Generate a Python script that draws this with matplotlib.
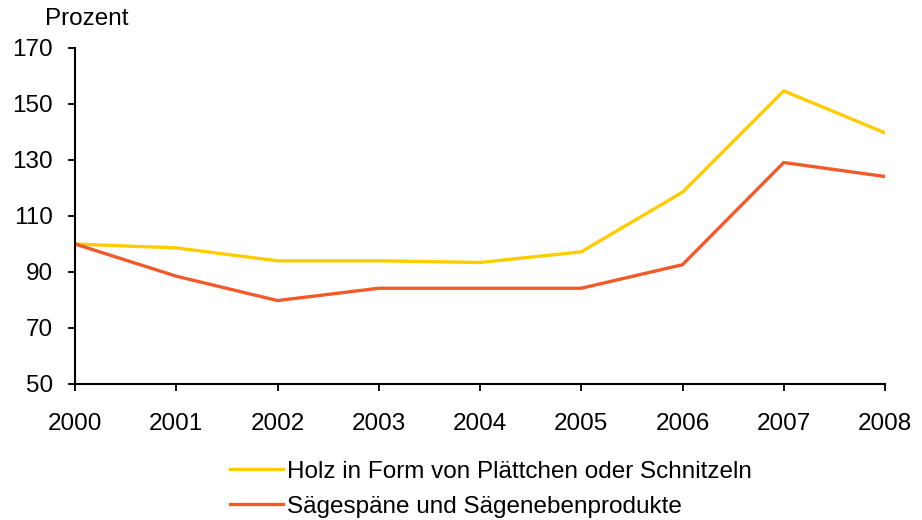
import matplotlib
matplotlib.use("Agg")
import matplotlib.pyplot as plt

plt.rcParams['font.family'] = ['Liberation Sans', 'DejaVu Sans']

years = [2000, 2001, 2002, 2003, 2004, 2005, 2006, 2007, 2008]
holz = [100, 98.6, 94, 94, 93.4, 97.2, 118.5, 154.7, 139.7]
saege = [100, 88.5, 79.8, 84.2, 84.2, 84.2, 92.6, 129.1, 124.1]
series_names = ["Holz in Form von Plättchen oder Schnitzeln",
                "Sägespäne und Sägenebenprodukte"]
colors = ["#FFCC00", "#F15A2B"]
yticks = [50, 70, 90, 110, 130, 150, 170]

FS = 17.5

fig = plt.figure(figsize=(9.22, 5.2), dpi=100)
ax = fig.add_axes([75/922, 136/520, 810/922, 336/520])

l1, = ax.plot(years, holz, color=colors[0], lw=2.4, solid_joinstyle='miter')
l2, = ax.plot(years, saege, color=colors[1], lw=2.4, solid_joinstyle='miter')

ax.set_xlim(2000, 2008)
ax.set_ylim(50, 170)
ax.set_xticks(years)
ax.set_xticklabels([str(y) for y in years])
ax.set_yticks(yticks)
for s in ['top', 'right']:
    ax.spines[s].set_visible(False)
for s in ['left', 'bottom']:
    ax.spines[s].set_linewidth(1.5)
ax.tick_params(axis='both', direction='out', length=5, width=1.3, labelsize=FS)
ax.tick_params(axis='x', pad=16)
ax.tick_params(axis='y', pad=11)

fig.text(45/922, 1 - 19/520, "Prozent", fontsize=FS, va='center', ha='left')

fig.legend([l1, l2], series_names, loc='upper left',
           bbox_to_anchor=(208/922, 1 - 439/520), frameon=False,
           fontsize=FS, handlelength=2.18, handletextpad=0.18,
           labelspacing=0.52)

fig.savefig("out.png", dpi=100)
